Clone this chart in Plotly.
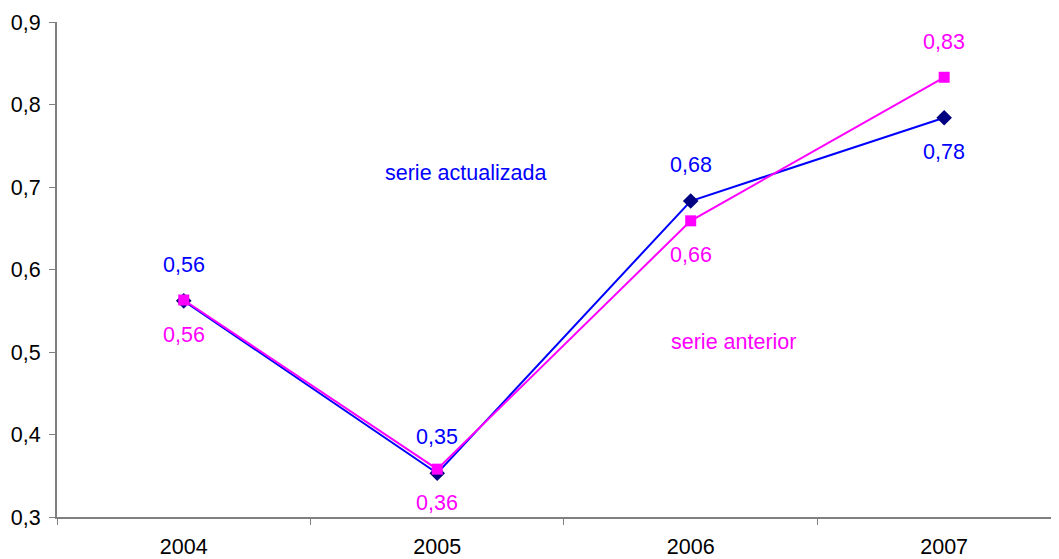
import plotly.graph_objects as go

years = ["2004", "2005", "2006", "2007"]
serie_actualizada = [0.562, 0.353, 0.683, 0.784]
serie_anterior = [0.563, 0.358, 0.659, 0.833]
y_ticks = [0.3, 0.4, 0.5, 0.6, 0.7, 0.8, 0.9]

BLUE = "#0000FF"
NAVY = "#000080"
PINK = "#FF00FF"
FONT = "Liberation Sans, Arial, sans-serif"
FS = 21.5

# label offsets (pixels): positive = above
blue_shift = [36, 36, 36, -34]
pink_shift = [-35, -34, -34, 35]

fig = go.Figure()
fig.add_trace(go.Scatter(
    x=years, y=serie_actualizada, mode="lines+markers",
    line=dict(color=BLUE, width=2),
    marker=dict(symbol="diamond", size=12, color=NAVY),
    name="serie actualizada", showlegend=False, cliponaxis=False))
fig.add_trace(go.Scatter(
    x=years, y=serie_anterior, mode="lines+markers",
    line=dict(color=PINK, width=2),
    marker=dict(symbol="square", size=11, color=PINK),
    name="serie anterior", showlegend=False, cliponaxis=False))

def fmt(v):
    return f"{v:.2f}".replace(".", ",")

for i, yr in enumerate(years):
    fig.add_annotation(x=i, y=serie_actualizada[i], text=fmt(serie_actualizada[i]),
                       showarrow=False, yshift=blue_shift[i],
                       font=dict(color=BLUE, size=FS, family=FONT))
    fig.add_annotation(x=i, y=serie_anterior[i], text=fmt(serie_anterior[i]),
                       showarrow=False, yshift=pink_shift[i],
                       font=dict(color=PINK, size=FS, family=FONT))

fig.add_annotation(x=1.11, y=0.717, text="serie actualizada", showarrow=False,
                   font=dict(color=BLUE, size=FS, family=FONT))
fig.add_annotation(x=2.17, y=0.512, text="serie anterior", showarrow=False,
                   font=dict(color=PINK, size=FS, family=FONT))

fig.update_layout(
    width=1051, height=551,
    margin=dict(l=49, r=0, t=14, b=42, autoexpand=False),
    paper_bgcolor="white", plot_bgcolor="white",
    separators=",.",
    font=dict(family=FONT, size=FS, color="black"),
    xaxis=dict(type="category", range=[-0.5, 3.453], showgrid=False,
               showline=True, linecolor="#808080", linewidth=2,
               ticks="outside", tickson="boundaries", ticklen=6,
               tickcolor="#808080", ticklabelstandoff=9, automargin=False,
               tickfont=dict(size=FS, family=FONT)),
    yaxis=dict(range=[0.3, 0.9], tickvals=y_ticks, tickformat=".1f",
               showgrid=False, zeroline=False,
               showline=True, linecolor="#808080", linewidth=2,
               ticks="outside", ticklen=6, tickcolor="#808080",
               ticklabelstandoff=4, automargin=False,
               tickfont=dict(size=FS, family=FONT)),
)

fig.write_html("out.html")
